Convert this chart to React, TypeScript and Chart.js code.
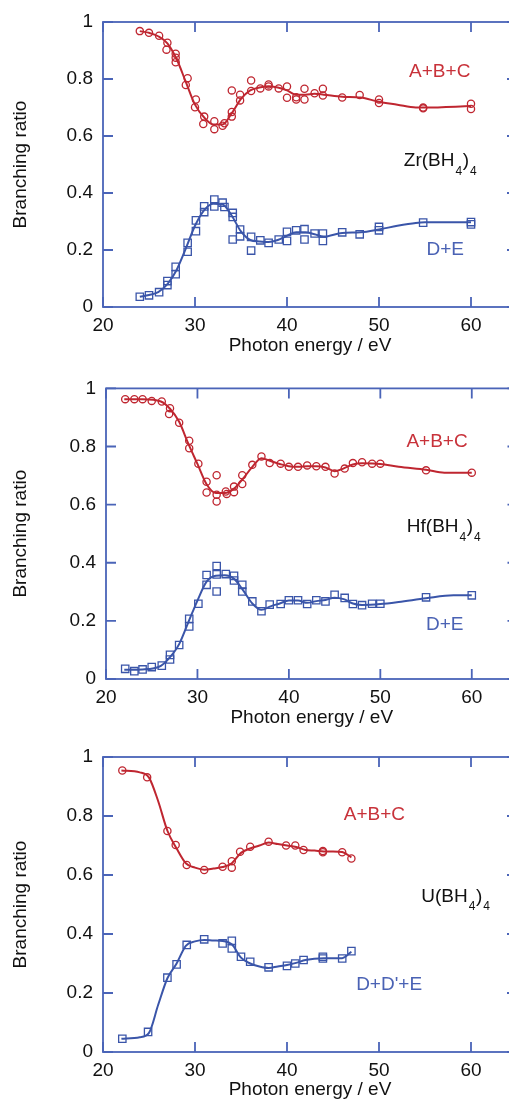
import React, { useEffect, useRef } from "react";
import { Chart, registerables } from "chart.js";
Chart.register(...registerables);

const RED = "#bf2630";
const BLUE = "#3a55a9";
const RED_TEXT = "#c8323a";
const BLUE_TEXT = "#4a62b4";
const AXIS = "#4a64b8";
const FONT = "'Liberation Sans', Arial, sans-serif";

const xTicks = [20, 30, 40, 50, 60];
const yTicks = [0, 0.2, 0.4, 0.6, 0.8, 1];

// ---- Zr(BH4)4 ----
const zrAbcE = [24, 25, 26.1, 27, 26.9, 27.9, 27.9, 27.9, 29.2, 29, 30.1, 30, 31, 30.9, 32.1, 32.1, 33, 33.2, 34, 34, 34, 34.9, 34.9, 36.1, 36.1, 37.1, 38, 38, 39.1, 40, 40, 41, 41, 41.9, 41.9, 43, 43.9, 43.9, 46, 47.9, 50, 50, 54.8, 54.8, 60, 60];
const zrAbcV = [0.968, 0.962, 0.952, 0.927, 0.903, 0.889, 0.875, 0.859, 0.803, 0.779, 0.728, 0.701, 0.668, 0.642, 0.652, 0.624, 0.636, 0.645, 0.684, 0.668, 0.76, 0.745, 0.725, 0.795, 0.758, 0.767, 0.781, 0.774, 0.767, 0.774, 0.734, 0.736, 0.728, 0.766, 0.728, 0.75, 0.766, 0.742, 0.735, 0.744, 0.728, 0.716, 0.7, 0.697, 0.713, 0.695];
const zrAbcCurveE = [24, 25, 26, 27, 28, 29, 30, 31, 32, 33, 34, 35, 36, 37, 38, 39, 40, 41, 42, 43, 44, 46, 48, 50, 52, 54, 55, 60];
const zrAbcCurveV = [0.968, 0.962, 0.95, 0.925, 0.87, 0.79, 0.71, 0.665, 0.64, 0.64, 0.68, 0.73, 0.76, 0.77, 0.775, 0.77, 0.76, 0.745, 0.745, 0.748, 0.745, 0.738, 0.735, 0.72, 0.71, 0.7, 0.7, 0.705];
const zrDeE = [24, 25, 26.1, 27, 27, 27.9, 27.9, 29.2, 29.2, 30.1, 30.1, 31, 31, 32.1, 32.1, 33, 33.2, 34.1, 34.1, 34.1, 34.9, 34.9, 36.1, 36.1, 37.1, 38, 39.1, 40, 40, 41, 41.9, 41.9, 43, 43.9, 43.9, 46, 47.9, 50, 50, 54.8, 60, 60];
const zrDeV = [0.036, 0.041, 0.052, 0.091, 0.077, 0.141, 0.115, 0.225, 0.194, 0.304, 0.266, 0.353, 0.333, 0.377, 0.353, 0.366, 0.351, 0.33, 0.316, 0.237, 0.272, 0.248, 0.246, 0.198, 0.234, 0.225, 0.237, 0.264, 0.232, 0.269, 0.273, 0.237, 0.258, 0.258, 0.232, 0.262, 0.255, 0.281, 0.269, 0.296, 0.298, 0.29];
const zrDeCurveE = [24, 25, 26, 27, 28, 29, 30, 31, 32, 33, 34, 35, 36, 37, 38, 39, 40, 41, 42, 43, 44, 46, 48, 50, 52, 54, 55, 60];
const zrDeCurveV = [0.036, 0.042, 0.052, 0.08, 0.13, 0.205, 0.285, 0.34, 0.362, 0.36, 0.32, 0.265, 0.235, 0.23, 0.228, 0.235, 0.25, 0.262, 0.262, 0.255, 0.247, 0.26, 0.262, 0.272, 0.285, 0.295, 0.297, 0.297];

// ---- Hf(BH4)4 ----
const hfAbcE = [22.1, 23.1, 24, 25, 26.1, 27, 26.9, 28, 29.1, 29.1, 30.1, 31, 31, 32.1, 32.1, 32.1, 33.1, 33.2, 34, 34, 34.9, 34.9, 36, 37, 37.9, 39.1, 40, 41, 42, 43, 44, 45, 46.1, 47, 48, 49.1, 50, 55, 60];
const hfAbcV = [0.963, 0.963, 0.963, 0.957, 0.955, 0.932, 0.912, 0.882, 0.82, 0.794, 0.741, 0.679, 0.642, 0.701, 0.634, 0.611, 0.645, 0.637, 0.643, 0.662, 0.671, 0.701, 0.737, 0.766, 0.743, 0.741, 0.73, 0.73, 0.735, 0.732, 0.73, 0.707, 0.724, 0.743, 0.746, 0.741, 0.741, 0.718, 0.71];
const hfAbcCurveE = [22, 24, 26, 27, 28, 29, 30, 31, 32, 33, 34, 35, 36, 37, 38, 39, 40, 41, 42, 43, 44, 45, 46, 47, 48, 50, 52, 55, 57, 60];
const hfAbcCurveV = [0.963, 0.963, 0.955, 0.93, 0.885, 0.81, 0.74, 0.67, 0.64, 0.64, 0.655, 0.69, 0.73, 0.76, 0.75, 0.74, 0.732, 0.73, 0.732, 0.732, 0.728, 0.715, 0.725, 0.738, 0.742, 0.74, 0.73, 0.72, 0.71, 0.71];
const hfDeE = [22.1, 23.1, 24, 25, 26.1, 27, 27, 28, 29.1, 29.1, 30.1, 31, 31, 32.1, 32.1, 32.1, 33.1, 34, 34, 34.9, 34.9, 36, 37, 37.9, 39.1, 40, 41, 42, 43, 44, 45, 46.1, 47, 48, 49.1, 50, 55, 60];
const hfDeV = [0.035, 0.027, 0.033, 0.041, 0.046, 0.083, 0.067, 0.117, 0.207, 0.181, 0.259, 0.358, 0.324, 0.389, 0.36, 0.301, 0.361, 0.355, 0.339, 0.324, 0.301, 0.267, 0.233, 0.256, 0.258, 0.271, 0.271, 0.258, 0.271, 0.267, 0.29, 0.279, 0.258, 0.254, 0.259, 0.259, 0.281, 0.288];
const hfDeCurveE = [22, 24, 26, 27, 28, 29, 30, 31, 32, 33, 34, 35, 36, 37, 38, 39, 40, 41, 42, 43, 44, 45, 46, 47, 48, 50, 52, 55, 58, 60];
const hfDeCurveV = [0.032, 0.033, 0.045, 0.075, 0.12, 0.195, 0.27, 0.335, 0.355, 0.357, 0.345, 0.305, 0.26, 0.238, 0.25, 0.26, 0.27, 0.27, 0.262, 0.268, 0.272, 0.28, 0.275, 0.26, 0.255, 0.258, 0.265, 0.278, 0.288, 0.288];

// ---- U(BH4)4 ----
const uAbcE = [22.1, 24.8, 27, 27.9, 29.1, 31, 33, 34, 34, 34.9, 36, 38, 39.9, 40.9, 41.8, 43.9, 43.9, 46, 47];
const uAbcV = [0.954, 0.931, 0.749, 0.702, 0.634, 0.617, 0.628, 0.647, 0.625, 0.679, 0.696, 0.713, 0.7, 0.7, 0.685, 0.681, 0.677, 0.677, 0.656];
const uAbcCurveE = [22, 24, 25, 26, 27, 28, 29, 30, 31, 32, 33, 34, 35, 36, 37, 38, 39, 40, 41, 42, 43, 44, 45, 46, 47];
const uAbcCurveV = [0.954, 0.948, 0.93, 0.85, 0.75, 0.69, 0.64, 0.625, 0.618, 0.622, 0.627, 0.64, 0.675, 0.69, 0.7, 0.71, 0.705, 0.7, 0.695, 0.685, 0.683, 0.68, 0.68, 0.678, 0.66];
const uDeE = [22.1, 24.9, 27, 28, 29.1, 31, 33, 34, 34, 35, 36, 38, 40, 40.9, 41.8, 43.9, 43.9, 46, 47];
const uDeV = [0.045, 0.068, 0.252, 0.297, 0.363, 0.382, 0.368, 0.377, 0.351, 0.323, 0.306, 0.287, 0.292, 0.3, 0.312, 0.323, 0.317, 0.317, 0.342];
const uDeCurveE = [22, 24, 25, 26, 27, 28, 29, 30, 31, 32, 33, 34, 35, 36, 37, 38, 39, 40, 41, 42, 44, 46, 47];
const uDeCurveV = [0.045, 0.05, 0.065, 0.16, 0.25, 0.3, 0.36, 0.375, 0.38, 0.378, 0.376, 0.365, 0.32, 0.3, 0.29, 0.285, 0.29, 0.295, 0.302, 0.312, 0.318, 0.318, 0.34];

const pts = (xs: number[], ys: number[]) => xs.map((x, i) => ({ x, y: ys[i] }));

type Panel = {
  abc: [number[], number[]];
  abcCurve: [number[], number[]];
  de: [number[], number[]];
  deCurve: [number[], number[]];
  abcLabel: { text: string; x: number; y: number };
  deLabel: { text: string; x: number; y: number };
  formula: { parts: [string, boolean][]; x: number; y: number; subDy: number };
  layout: { top: number; bottom: number; right: number; left: number; xAxisH: number };
};

const CANVAS_W = 524;
const CANVAS_H = 367;

const panels: Panel[] = [
  {
    abc: [zrAbcE, zrAbcV],
    abcCurve: [zrAbcCurveE, zrAbcCurveV],
    de: [zrDeE, zrDeV],
    deCurve: [zrDeCurveE, zrDeCurveV],
    abcLabel: { text: "A+B+C", x: 56.6, y: 0.826 },
    deLabel: { text: "D+E", x: 57.2, y: 0.2 },
    formula: { parts: [["Zr(BH", false], ["4", true], [")", false], ["4", true]], x: 52.7, y: 0.495, subDy: 9 },
    layout: { top: 22, bottom: 9.6, right: 7, left: 103, xAxisH: 50.4 },
  },
  {
    abc: [hfAbcE, hfAbcV],
    abcCurve: [hfAbcCurveE, hfAbcCurveV],
    de: [hfDeE, hfDeV],
    deCurve: [hfDeCurveE, hfDeCurveV],
    abcLabel: { text: "A+B+C", x: 56.2, y: 0.816 },
    deLabel: { text: "D+E", x: 57.05, y: 0.186 },
    formula: { parts: [["Hf(BH", false], ["4", true], [")", false], ["4", true]], x: 52.9, y: 0.507, subDy: 9 },
    layout: { top: 16, bottom: 4.6, right: 3, left: 106, xAxisH: 50.4 },
  },
  {
    abc: [uAbcE, uAbcV],
    abcCurve: [uAbcCurveE, uAbcCurveV],
    de: [uDeE, uDeV],
    deCurve: [uDeCurveE, uDeCurveV],
    abcLabel: { text: "A+B+C", x: 49.5, y: 0.803 },
    deLabel: { text: "D+D'+E", x: 51.1, y: 0.227 },
    formula: { parts: [["U(BH", false], ["4", true], [")", false], ["4", true]], x: 54.6, y: 0.509, subDy: 8 },
    layout: { top: 23, bottom: 0, right: 7, left: 103, xAxisH: 49 },
  },
];

function makeDecorPlugin(p: Panel) {
  return {
    id: "decor",
    afterDraw(chart: any) {
      const { ctx, chartArea: a, scales } = chart;
      const xs = scales.x;
      const ys = scales.y;
      ctx.save();
      ctx.strokeStyle = AXIS;
      ctx.lineWidth = 1.8;
      ctx.strokeRect(a.left, a.top, a.right - a.left, a.bottom - a.top);
      const TL = 10;
      ctx.beginPath();
      for (const v of xTicks) {
        const px = xs.getPixelForValue(v);
        ctx.moveTo(px, a.bottom);
        ctx.lineTo(px, a.bottom - TL);
        ctx.moveTo(px, a.top);
        ctx.lineTo(px, a.top + TL);
      }
      for (const v of yTicks) {
        const py = ys.getPixelForValue(v);
        ctx.moveTo(a.left, py);
        ctx.lineTo(a.left + TL, py);
        ctx.moveTo(a.right, py);
        ctx.lineTo(a.right - TL, py);
      }
      ctx.stroke();

      ctx.font = `19px ${FONT}`;
      ctx.textBaseline = "middle";
      ctx.textAlign = "center";
      ctx.fillStyle = RED_TEXT;
      ctx.fillText(p.abcLabel.text, xs.getPixelForValue(p.abcLabel.x), ys.getPixelForValue(p.abcLabel.y));
      ctx.fillStyle = BLUE_TEXT;
      ctx.fillText(p.deLabel.text, xs.getPixelForValue(p.deLabel.x), ys.getPixelForValue(p.deLabel.y));

      ctx.fillStyle = "#111";
      ctx.textAlign = "left";
      ctx.textBaseline = "alphabetic";
      let cx = xs.getPixelForValue(p.formula.x);
      const by = ys.getPixelForValue(p.formula.y);
      for (const [t, sub] of p.formula.parts) {
        ctx.font = sub ? `12px ${FONT}` : `19px ${FONT}`;
        const dy = sub ? p.formula.subDy : 0;
        ctx.fillText(t, cx + (sub ? 1 : 0), by + dy);
        cx += ctx.measureText(t).width + (sub ? 1.5 : 0);
      }
      ctx.restore();
    },
  };
}

function PanelChart({ p }: { p: Panel }) {
  const ref = useRef<HTMLCanvasElement | null>(null);
  useEffect(() => {
    if (!ref.current) return;
    const L = p.layout;
    const tickFont = { family: FONT, size: 19 };
    const chart = new Chart(ref.current, {
      type: "scatter",
      data: {
        datasets: [
          {
            data: pts(p.abcCurve[0], p.abcCurve[1]),
            showLine: true,
            borderColor: RED,
            borderWidth: 2,
            pointRadius: 0,
            cubicInterpolationMode: "monotone",
          },
          {
            data: pts(p.deCurve[0], p.deCurve[1]),
            showLine: true,
            borderColor: BLUE,
            borderWidth: 2,
            pointRadius: 0,
            cubicInterpolationMode: "monotone",
          },
          {
            data: pts(p.abc[0], p.abc[1]),
            showLine: false,
            pointStyle: "circle",
            pointRadius: 3.6,
            pointBorderWidth: 1.3,
            pointBorderColor: RED,
            pointBackgroundColor: "rgba(0,0,0,0)",
          },
          {
            data: pts(p.de[0], p.de[1]),
            showLine: false,
            pointStyle: "rect",
            pointRadius: 5.2,
            pointBorderWidth: 1.3,
            pointBorderColor: BLUE,
            pointBackgroundColor: "rgba(0,0,0,0)",
          },
        ],
      } as any,
      options: {
        animation: false,
        responsive: false,
        maintainAspectRatio: false,
        events: [],
        layout: { padding: { top: L.top, right: L.right, bottom: L.bottom, left: 0 } },
        plugins: { legend: { display: false }, tooltip: { enabled: false } },
        scales: {
          x: {
            type: "linear",
            min: 20,
            max: 65,
            position: "bottom",
            afterFit: (s: any) => {
              s.height = L.xAxisH;
            },
            afterBuildTicks: (s: any) => {
              s.ticks = xTicks.map((v) => ({ value: v }));
            },
            grid: { display: false, drawTicks: false },
            border: { display: false },
            ticks: {
              padding: 7,
              font: tickFont,
              color: "#111",
              maxRotation: 0,
              autoSkip: false,
              callback: (v: any) => String(v),
            },
            title: {
              display: true,
              text: "Photon energy / eV",
              font: tickFont,
              color: "#111",
              padding: { top: 0, bottom: 0 },
            },
          },
          y: {
            type: "linear",
            min: 0,
            max: 1,
            afterFit: (s: any) => {
              s.width = L.left;
            },
            afterBuildTicks: (s: any) => {
              s.ticks = yTicks.map((v) => ({ value: v }));
            },
            grid: { display: false, drawTicks: false },
            border: { display: false },
            ticks: {
              padding: 10,
              font: tickFont,
              color: "#111",
              autoSkip: false,
              callback: (v: any) => String(Math.round(v * 10) / 10),
            },
            title: {
              display: true,
              text: "Branching ratio",
              font: tickFont,
              color: "#111",
              padding: { top: 9, bottom: 0 },
            },
          },
        },
      } as any,
      plugins: [makeDecorPlugin(p)],
    });
    return () => chart.destroy();
  }, [p]);
  return (
    <canvas
      ref={ref}
      width={CANVAS_W}
      height={CANVAS_H}
      style={{ display: "block", width: CANVAS_W, height: CANVAS_H }}
    />
  );
}

export default function App() {
  return (
    <div
      style={{
        position: "absolute",
        left: 0,
        top: 0,
        width: 509,
        height: 1101,
        overflow: "hidden",
        background: "#fff",
      }}
    >
      {panels.map((p, i) => (
        <PanelChart key={i} p={p} />
      ))}
    </div>
  );
}
